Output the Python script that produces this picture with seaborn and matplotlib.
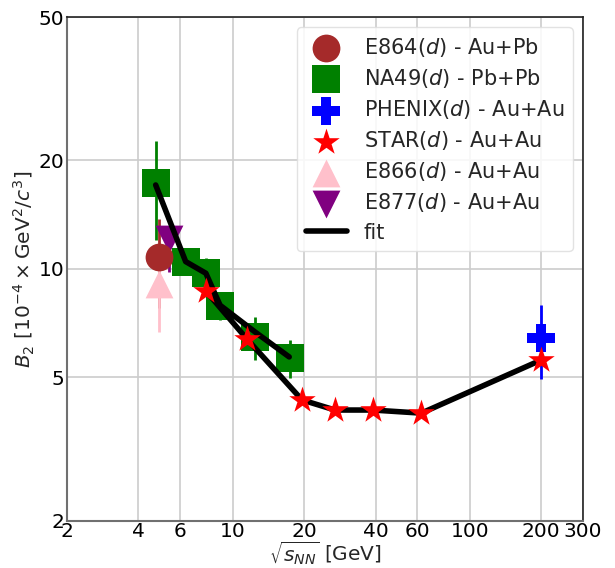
import numpy as np
import pandas as pd
import matplotlib
matplotlib.use("Agg")
import matplotlib.pyplot as plt
import seaborn as sns
from matplotlib.ticker import FixedLocator, NullFormatter, LogLocator

# ---- data ----
e864_x = [4.87]
e864_y = [10.8]
e864_err = [3.0]

na49_x = [4.73, 6.33, 7.7, 8.84, 12.4, 17.5]
na49_y = [17.3, 10.46, 9.75, 7.9, 6.48, 5.67]
na49_err = [5.3, 0.5, 1.0, 0.7, 0.9, 0.7]

phenix_x = [200.0]
phenix_y = [6.45]
phenix_err = [1.5]

star_x = [7.7, 11.5, 19.6, 27.0, 39.0, 62.4, 200.0]
star_y = [8.69, 6.38, 4.33, 4.06, 4.06, 3.98, 5.59]

e866_x = [4.87]
e866_y = [9.09]
e866_err = [2.4]

e877_x = [5.4]
e877_y = [12.1]
e877_err_low = [2.3]
e877_err_high = [1.0]

fit_na49_x = [4.73, 6.33, 7.7, 8.84, 12.4, 17.3]
fit_na49_y = [17.1, 10.48, 9.73, 7.93, 6.69, 5.7]
fit_star_x = [7.7, 11.5, 19.6, 27.0, 39.0, 62.4, 200.0]
fit_star_y = [8.69, 6.38, 4.33, 4.06, 4.06, 3.98, 5.59]

x_ticks = [2, 4, 6, 10, 20, 40, 60, 100, 200, 300]
y_ticks = [2, 5, 10, 20, 50]

labels = ["E864($d$) - Au+Pb", "NA49($d$) - Pb+Pb", "PHENIX($d$) - Au+Au",
          "STAR($d$) - Au+Au", "E866($d$) - Au+Au", "E877($d$) - Au+Au", "fit"]

sns.set_style("whitegrid")
plt.rcParams["font.family"] = ["DejaVu Sans"]

fig = plt.figure(figsize=(6.15, 5.68), dpi=100)
ax = fig.add_axes([0.109, 0.083, 0.839, 0.887])
ax.set_xscale("log")
ax.set_yscale("log")

# error bars (below markers)
ax.errorbar(e864_x, e864_y, yerr=e864_err, fmt="none", ecolor="brown", elinewidth=2, zorder=1)
ax.errorbar(na49_x, na49_y, yerr=na49_err, fmt="none", ecolor="green", elinewidth=2, zorder=1)
ax.errorbar(phenix_x, phenix_y, yerr=phenix_err, fmt="none", ecolor="blue", elinewidth=2, zorder=1)
ax.errorbar(e866_x, e866_y, yerr=e866_err, fmt="none", ecolor="pink", elinewidth=2, zorder=1.5)
ax.errorbar(e877_x, e877_y, yerr=[e877_err_low, e877_err_high], fmt="none", ecolor="purple",
            elinewidth=2, zorder=1.5)

S = 400
sns.scatterplot(x=e864_x, y=e864_y, marker="o", s=S, color="brown", linewidth=0,
                label=labels[0], ax=ax, zorder=2.6, legend=False)
sns.scatterplot(x=na49_x, y=na49_y, marker="s", s=S, color="green", linewidth=0,
                label=labels[1], ax=ax, zorder=2, legend=False)
sns.scatterplot(x=phenix_x, y=phenix_y, marker="P", s=S, color="blue", linewidth=0,
                label=labels[2], ax=ax, zorder=2, legend=False)
sns.scatterplot(x=star_x, y=star_y, marker="*", s=S, color="red", linewidth=0,
                label=labels[3], ax=ax, zorder=4, legend=False)
sns.scatterplot(x=e866_x, y=e866_y, marker="^", s=S, color="pink", linewidth=0,
                label=labels[4], ax=ax, zorder=2.5, legend=False)
sns.scatterplot(x=e877_x, y=e877_y, marker="v", s=S, color="purple", linewidth=0,
                label=labels[5], ax=ax, zorder=2.4, legend=False)

sns.lineplot(x=fit_na49_x, y=fit_na49_y, color="black", linewidth=4, ax=ax,
             label=labels[6], zorder=3, legend=False)
sns.lineplot(x=fit_star_x, y=fit_star_y, color="black", linewidth=4, ax=ax,
             zorder=3, legend=False)

ax.set_xlim(2, 300)
ax.set_ylim(2, 50)
ax.xaxis.set_major_locator(FixedLocator(x_ticks))
ax.set_xticklabels([str(t) for t in x_ticks])
ax.yaxis.set_major_locator(FixedLocator(y_ticks))
ax.set_yticklabels([str(t) for t in y_ticks])
ax.xaxis.set_minor_locator(LogLocator(base=10, subs=np.arange(2, 10)))
ax.yaxis.set_minor_locator(LogLocator(base=10, subs=np.arange(2, 10)))
ax.xaxis.set_minor_formatter(NullFormatter())
ax.yaxis.set_minor_formatter(NullFormatter())

ax.tick_params(axis="both", which="major", labelsize=14.5, direction="in", length=4,
               width=1, colors="black", pad=2)
ax.tick_params(axis="x", which="major", pad=0.5)
ax.tick_params(axis="both", which="minor", direction="in", length=2, width=0.6, colors="#555555")
ax.grid(True, which="major", color="#cccccc", linewidth=1.2)
ax.grid(False, which="minor")

for s in ["left", "bottom"]:
    ax.spines[s].set_color("#707070")
    ax.spines[s].set_linewidth(1.5)
for s in ["top", "right"]:
    ax.spines[s].set_color("#222222")
    ax.spines[s].set_linewidth(1.2)

ax.set_xlabel(r"$\sqrt{s_{NN}}$ [GeV]", fontsize=14.5, labelpad=-0.8)
ax.set_ylabel(r"$B_2$ [$10^{-4}\times\mathrm{GeV}^2/c^3$]", fontsize=14.5, labelpad=1)

handles, labs = ax.get_legend_handles_labels()
hmap = dict(zip(labs, handles))
ax.legend([hmap[l] for l in labels], labels, loc="upper right", fontsize=15,
          frameon=True, fancybox=True, framealpha=0.85, edgecolor="#dddddd",
          borderaxespad=0.5, handlelength=2.0, handletextpad=0.8, labelspacing=0.39)

fig.savefig("out.png", dpi=100)
